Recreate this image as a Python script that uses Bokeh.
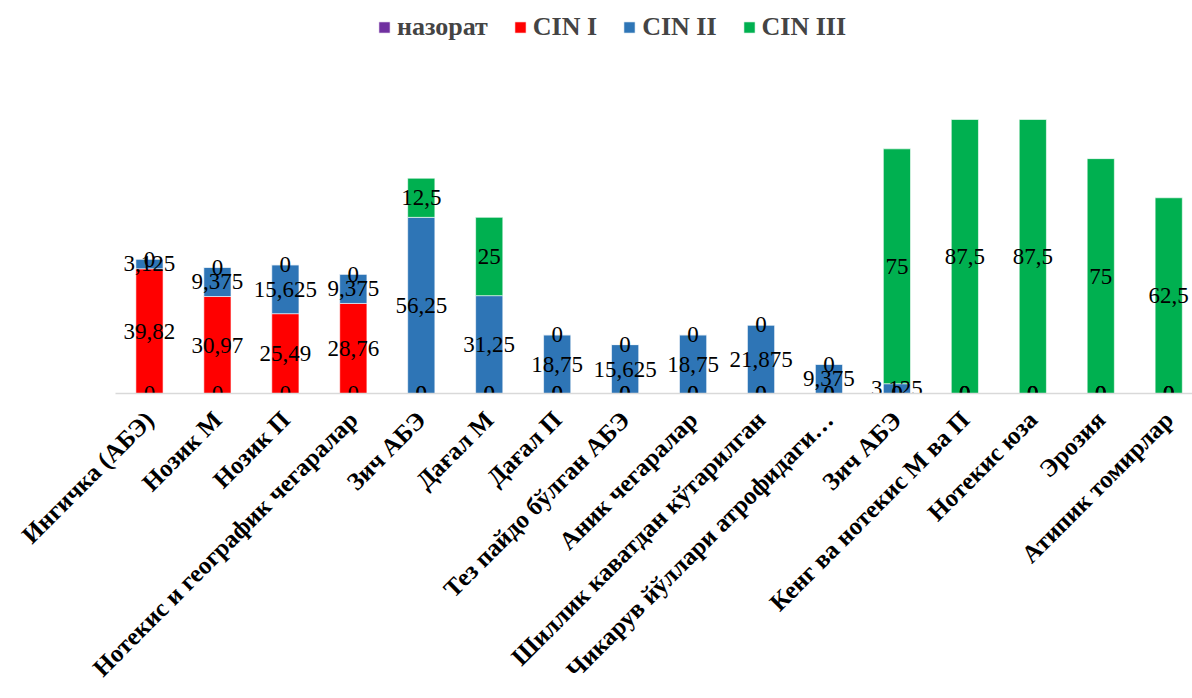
from math import pi

from bokeh.core.properties import value
from bokeh.embed import file_html
from bokeh.models import (ColumnDataSource, FixedTicker, Legend, LegendItem,
                          Range1d)
from bokeh.plotting import figure
from bokeh.resources import INLINE

# Category names along the x axis
categories = [
    "Ингичка (АБЭ)",
    "Нозик М",
    "Нозик П",
    "Нотекис и географик чегаралар",
    "Зич АБЭ",
    "Дағал М",
    "Дағал П",
    "Тез пайдо бўлган АБЭ",
    "Аник чегаралар",
    "Шиллик каватдан кўтарилган",
    "Чикарув йўллари атрофидаги…",
    "Зич АБЭ",
    "Кенг ва нотекис М ва П",
    "Нотекис юза",
    "Эрозия",
    "Атипик томирлар",
]

# Series values (percent)
series_names = ["назорат", "CIN I", "CIN II", "CIN III"]
nazorat = [0, 0, 0, 0, 0, 0, 0, 0, 0, 0, 0, 0, 0, 0, 0, 0]
cin1 = [39.82, 30.97, 25.49, 28.76, 0, 0, 0, 0, 0, 0, 0, 0, 0, 0, 0, 0]
cin2 = [3.125, 9.375, 15.625, 9.375, 56.25, 31.25, 18.75, 15.625, 18.75,
        21.875, 9.375, 3.125, 0, 0, 0, 0]
cin3 = [0, 0, 0, 0, 12.5, 25, 0, 0, 0, 0, 0, 75, 87.5, 87.5, 75, 62.5]

colors = ["#7030A0", "#FF0000", "#2E75B6", "#00B050"]
keys = ["s0", "s1", "s2", "s3"]
values_list = [nazorat, cin1, cin2, cin3]

SERIF = "'Times New Roman', 'Liberation Serif', serif"

xs = list(range(len(categories)))
data = {"x": xs}
for k, vals in zip(keys, values_list):
    data[k] = vals
src = ColumnDataSource(data)


def fmt(v):
    s = ("%.4f" % v).rstrip("0").rstrip(".")
    return s.replace(".", ",")


p = figure(width=1192, height=698, output_backend="svg", toolbar_location=None,
           x_range=Range1d(-0.5, 15.35), y_range=Range1d(0, 125.5),
           min_border_left=115, min_border_right=0, min_border_top=0,
           min_border_bottom=305)
p.outline_line_color = None
p.xgrid.visible = False
p.ygrid.visible = False
p.yaxis.visible = False
p.background_fill_color = "white"
p.border_fill_color = "white"

renderers = p.vbar_stack(keys, x="x", width=0.4, color=colors, source=src,
                         line_color="white", line_width=0.6)

# Value labels centred on each stacked segment
base = [0.0] * len(xs)
for vals in values_list:
    ys = [b + v / 2 for b, v in zip(base, vals)]
    lab = ColumnDataSource(dict(x=xs, y=ys, t=[fmt(v) for v in vals]))
    p.text(x="x", y="y", text="t", source=lab, text_align="center",
           text_baseline="middle", text_font=value(SERIF),
           text_font_size="23px", text_color="black")
    base = [b + v for b, v in zip(base, vals)]

ax = p.xaxis[0]
ax.ticker = FixedTicker(ticks=xs)
ax.major_label_overrides = {i: c for i, c in enumerate(categories)}
ax.major_label_orientation = pi / 4
ax.major_label_text_font = SERIF
ax.major_label_text_font_style = "bold"
ax.major_label_text_font_size = "25px"
ax.major_label_text_color = "black"
ax.major_label_standoff = 22
ax.major_tick_line_color = None
ax.minor_tick_line_color = None
ax.major_tick_out = 0
ax.major_tick_in = 0
ax.axis_line_color = "#D9D9D9"
ax.axis_line_width = 1.5

legend = Legend(
    items=[LegendItem(label=n, renderers=[r]) for n, r in zip(series_names, renderers)],
    orientation="horizontal",
    location=(262, 351),
    glyph_width=14, glyph_height=14,
    label_text_font=SERIF,
    label_text_font_style="bold",
    label_text_font_size="26px",
    label_standoff=6,
    spacing=25,
    padding=0,
    margin=0,
    border_line_color=None,
    background_fill_alpha=0,
)
p.add_layout(legend, "center")

open("out.html", "w").write(file_html(p, INLINE))
